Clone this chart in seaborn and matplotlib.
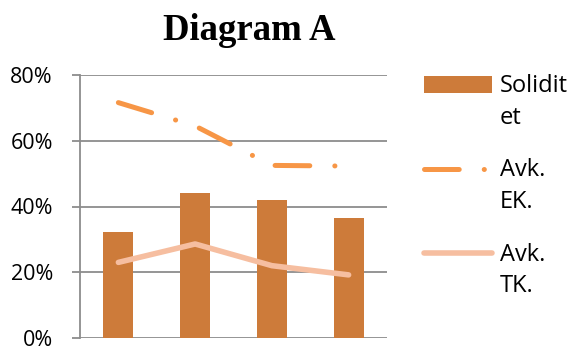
import matplotlib
matplotlib.use("Agg")
import matplotlib.pyplot as plt
import seaborn as sns
import pandas as pd

# Data
periods = ["År 1", "År 2", "År 3", "År 4"]
soliditet = [0.322, 0.440, 0.419, 0.365]
avk_ek = [0.716, 0.645, 0.525, 0.523]
avk_tk = [0.230, 0.286, 0.220, 0.192]
series_labels = ["Solidit\net", "Avk.\nEK.", "Avk.\nTK."]
y_ticks = [0.0, 0.2, 0.4, 0.6, 0.8]
y_tick_labels = ["0%", "20%", "40%", "60%", "80%"]

bar_color = "#CD7B3A"
ek_color = "#F79646"
tk_color = "#F6BEA0"
grid_color = "#8C8C8C"

sns.set_theme(style="white")
plt.rcParams["font.family"] = ["Open Sans", "DejaVu Sans"]
plt.rcParams["lines.scale_dashes"] = False

df = pd.DataFrame({"period": periods, "soliditet": soliditet,
                   "ek": avk_ek, "tk": avk_tk})

fig = plt.figure(figsize=(5.72, 3.47), dpi=100)
ax = fig.add_axes([80 / 572, 9 / 347, 307 / 572, 263 / 347])

sns.barplot(data=df, x="period", y="soliditet", color=bar_color,
            saturation=1, width=0.39, linewidth=0, ax=ax,
            label=series_labels[0])
sns.lineplot(data=df, x="period", y="ek", color=ek_color, lw=3.6,
             linestyle=(0, (25, 18, 0.1, 18)), dash_capstyle="round",
             solid_capstyle="round", sort=False, ax=ax,
             label=series_labels[1])
sns.lineplot(data=df, x="period", y="tk", color=tk_color, lw=4.0,
             solid_capstyle="round", sort=False, ax=ax,
             label=series_labels[2])

ax.set_xlim(-0.5, 3.5)
ax.set_ylim(0, 0.8)
ax.set_yticks(y_ticks)
ax.set_yticklabels(y_tick_labels, fontsize=15.5, color="black")
ax.set_xticks([])
ax.set_xlabel("")
ax.set_ylabel("")
ax.yaxis.grid(True, color=grid_color, lw=1.3)
ax.set_axisbelow(True)
ax.tick_params(axis="y", left=True, length=6, width=1.3, color=grid_color,
               pad=13.5)
for side in ["top", "right", "bottom"]:
    ax.spines[side].set_visible(False)
ax.spines["left"].set_color(grid_color)
ax.spines["left"].set_linewidth(1.3)

fig.text(249 / 572, 1 - 40 / 347, "Diagram A", ha="center", va="baseline",
         fontsize=26.5, fontweight="bold", family="Liberation Serif",
         color="black")

# Legend in series order: bars first, then the two lines
handles, labels = ax.get_legend_handles_labels()
order = [labels.index(lab) for lab in series_labels]
handles = [handles[i] for i in order]
labels = [labels[i] for i in order]
leg = ax.legend(handles, labels, loc="upper left",
                bbox_to_anchor=(424 / 572, 1 - 74 / 347),
                bbox_transform=fig.transFigure, frameon=False,
                fontsize=17, handlelength=2.9, handletextpad=0.3,
                labelspacing=1.22, borderaxespad=0, borderpad=0)
for t in leg.get_texts():
    t.set_linespacing(1.42)
    t.set_color("black")
# Put each key beside the first line of its two-line label
shift = 13.0
for h in leg.legend_handles:
    if hasattr(h, "set_ydata"):
        h.set_ydata([y + shift for y in h.get_ydata()])
    else:
        h.set_y(h.get_y() + shift)

fig.savefig("out.png", dpi=100)
